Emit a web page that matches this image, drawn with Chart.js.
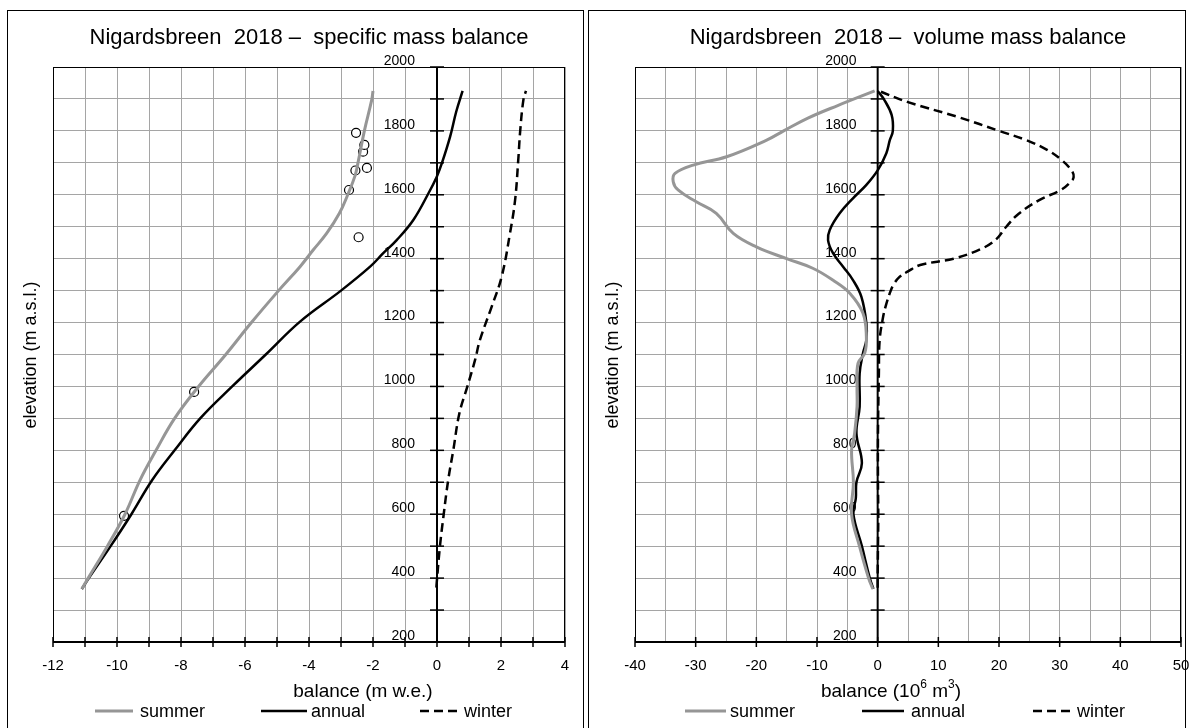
<!DOCTYPE html>
<html>
<head>
<meta charset="utf-8">
<script src="https://cdn.jsdelivr.net/npm/chart.js@4.4.1/dist/chart.umd.min.js"></script>
<style>
  body { margin: 0; background: #fff; width: 1192px; height: 728px; overflow: hidden; position: relative; }
  .panel { position: absolute; top: 10px; height: 740px; border: 1px solid #000; box-sizing: border-box; }
  #p1 { left: 7px; width: 577px; }
  #p2 { left: 588px; width: 598px; }
  .wrap { position: absolute; top: 0; height: 728px; }
  #w1 { left: 0; width: 590px; }
  #w2 { left: 590px; width: 602px; }
</style>
</head>
<body>
<div class="panel" id="p1"></div>
<div class="panel" id="p2"></div>
<div class="wrap" id="w1"><canvas id="c1"></canvas></div>
<div class="wrap" id="w2"><canvas id="c2"></canvas></div>
<script>
const FONT = '"Liberation Sans", Arial, sans-serif';

// ---- specific mass balance (m w.e.) ----
const specSummerElev = [366, 400, 500, 600, 707, 800, 900, 1000, 1100, 1200, 1300, 1375, 1427, 1479, 1542, 1600, 1660, 1700, 1800, 1897, 1925];
const specSummer = [-11.1, -10.9, -10.3, -9.75, -9.28, -8.78, -8.2, -7.45, -6.6, -5.8, -4.95, -4.28, -3.87, -3.45, -3.05, -2.79, -2.56, -2.47, -2.27, -2.04, -2.0];
const specAnnualElev = [366, 400, 500, 600, 707, 800, 900, 1000, 1100, 1203, 1300, 1375, 1417, 1458, 1521, 1604, 1656, 1698, 1782, 1860, 1925];
const specAnnual = [-11.1, -10.88, -10.2, -9.55, -8.9, -8.2, -7.4, -6.4, -5.35, -4.28, -3.0, -2.09, -1.68, -1.26, -0.74, -0.27, -0.01, 0.15, 0.41, 0.6, 0.8];
const specWinterElev = [370, 384, 498, 592, 707, 801, 916, 1000, 1083, 1145, 1250, 1343, 1479, 1583, 1710, 1800, 1897, 1925];
const specWinter = [-0.02, -0.01, 0.09, 0.2, 0.35, 0.51, 0.7, 0.95, 1.19, 1.34, 1.71, 2.02, 2.28, 2.44, 2.54, 2.6, 2.7, 2.78];
// stake measurements (summer)
const stakeElev = [595, 983, 1467, 1615, 1676, 1684, 1735, 1756, 1794];
const stakeSummer = [-9.78, -7.59, -2.45, -2.75, -2.55, -2.19, -2.31, -2.27, -2.53];

// ---- volume mass balance (10^6 m3) ----
const volSummerElev = [366, 400, 500, 600, 700, 800, 853, 937, 999, 1072, 1104, 1156, 1229, 1292, 1333, 1370, 1400, 1437, 1479, 1542, 1578, 1615, 1641, 1667, 1693, 1719, 1771, 1800, 1840, 1880, 1925];
const volSummer = [-0.8, -1.5, -3.0, -4.3, -4.0, -4.3, -3.8, -3.4, -3.4, -3.24, -2.14, -1.86, -2.42, -4.6, -7.4, -10.7, -15, -20, -23.8, -26.6, -29.9, -32.9, -33.7, -33.4, -30.4, -24.9, -18.3, -15.5, -11.5, -6.5, -0.5];
const volAnnualElev = [366, 400, 500, 600, 650, 700, 760, 853, 937, 1041, 1104, 1146, 1198, 1281, 1333, 1375, 1417, 1458, 1490, 1542, 1589, 1631, 1678, 1730, 1771, 1800, 1850, 1900, 1925];
const volAnnual = [-0.7, -1.3, -2.6, -4.0, -3.6, -3.5, -2.6, -3.5, -2.97, -2.97, -2.42, -1.86, -1.86, -2.69, -4.07, -5.7, -7.36, -8.18, -7.9, -6.26, -4.07, -1.86, 0.05, 1.43, 2.0, 2.5, 2.3, 1.0, 0];
const volWinterElev = [370, 400, 500, 600, 700, 853, 1041, 1146, 1218, 1250, 1292, 1318, 1343, 1360, 1380, 1400, 1430, 1460, 1500, 1540, 1584, 1615, 1640, 1655, 1675, 1709, 1740, 1771, 1800, 1842, 1890, 1925];
const volWinter = [0, 0, 0.05, 0.1, 0.05, 0.05, 0.2, 0.33, 0.9, 1.3, 2.0, 2.6, 3.6, 5.0, 7.0, 12.5, 17.0, 19.5, 21.2, 23.2, 26.7, 30.2, 31.8, 32.3, 32.0, 30.3, 28, 24.5, 20, 13.5, 5, 0.2];

const legendLabels = ['summer', 'annual', 'winter'];

const GREY = 'rgb(150,150,150)';
const GRID = 'rgb(165,165,165)';

function pts(xs, ys) { return xs.map((v, i) => ({ x: v, y: ys[i] })); }

function lineSet(label, data, color, width, dash) {
  return { label, data, showLine: true, borderColor: color, borderWidth: width,
           borderDash: dash || [], pointRadius: 0, tension: 0.4, fill: false };
}

function panelPlugin(o) {
  return {
    id: 'panel',
    beforeDatasetsDraw(chart) {
      const { ctx, chartArea: a, scales: { x, y } } = chart;
      ctx.save();
      ctx.strokeStyle = '#000';
      ctx.lineWidth = 1;
      ctx.strokeRect(a.left + 0.5, a.top + 0.5, a.right - a.left - 1, a.bottom - a.top);
      ctx.lineWidth = 2;
      ctx.beginPath(); ctx.moveTo(a.left, a.bottom); ctx.lineTo(a.right, a.bottom); ctx.stroke();
      const x0 = x.getPixelForValue(0);
      ctx.beginPath(); ctx.moveTo(x0, a.top); ctx.lineTo(x0, a.bottom); ctx.stroke();
      ctx.lineWidth = 1.5;
      for (let v = o.xMin; v <= o.xMax; v += o.xTick) {
        const px = x.getPixelForValue(v);
        ctx.beginPath(); ctx.moveTo(px, a.bottom - 5); ctx.lineTo(px, a.bottom + 5); ctx.stroke();
      }
      for (let e = 200; e <= 2000; e += 100) {
        const py = y.getPixelForValue(e);
        ctx.beginPath(); ctx.moveTo(x0 - 7, py); ctx.lineTo(x0 + 7, py); ctx.stroke();
      }
      ctx.restore();
    },
    afterDraw(chart) {
      const { ctx, chartArea: a } = chart;
      ctx.save();
      ctx.fillStyle = '#000';
      ctx.textBaseline = 'middle';
      ctx.textAlign = 'center';
      ctx.font = '22px ' + FONT;
      ctx.fillText(o.title, (a.left + a.right) / 2, 38);
      // x title (with optional superscripts)
      const mainFont = '19px ' + FONT;
      const supFont = '12px ' + FONT;
      let w = 0;
      o.xTitle.forEach(s => { ctx.font = s.sup ? supFont : mainFont; w += ctx.measureText(s.t).width; });
      let cx = a.left + o.xTitleX - w / 2;
      ctx.textAlign = 'left';
      o.xTitle.forEach(s => {
        ctx.font = s.sup ? supFont : mainFont;
        ctx.fillText(s.t, cx, s.sup ? 685 : 692);
        cx += ctx.measureText(s.t).width;
      });
      // y title
      ctx.save();
      ctx.translate(a.left - o.yTitleGap, 355);
      ctx.rotate(-Math.PI / 2);
      ctx.textAlign = 'center';
      ctx.font = '18px ' + FONT;
      ctx.fillText('elevation (m a.s.l.)', 0, 0);
      ctx.restore();
      // legend
      const ds = chart.data.datasets;
      ctx.font = '18px ' + FONT;
      o.legend.forEach((L, i) => {
        const d = ds[i];
        ctx.strokeStyle = d.borderColor;
        ctx.lineWidth = d.borderWidth;
        ctx.setLineDash(d.borderDash);
        ctx.beginPath(); ctx.moveTo(L[0], 711); ctx.lineTo(L[1], 711); ctx.stroke();
        ctx.setLineDash([]);
        ctx.fillText(legendLabels[i], L[2], 712);
      });
      ctx.restore();
    }
  };
}

function makeChart(id, o, datasets) {
  return new Chart(document.getElementById(id), {
    type: 'scatter',
    data: { datasets },
    options: {
      responsive: true,
      maintainAspectRatio: false,
      animation: false,
      layout: { padding: o.pad },
      plugins: { legend: { display: false }, tooltip: { enabled: false } },
      scales: {
        x: {
          type: 'linear', min: o.xMin, max: o.xMax,
          position: { y: 200 },
          border: { display: false },
          grid: { color: GRID, lineWidth: 1, drawTicks: true, tickLength: 15, tickColor: 'rgba(0,0,0,0)' },
          ticks: { stepSize: o.xStep, color: '#000', font: { family: FONT, size: 15 }, padding: 0,
                   maxRotation: 0, autoSkip: false,
                   callback: v => (v % o.xLabelStep === 0 ? String(v) : '') }
        },
        y: {
          type: 'linear', min: 200, max: 2000,
          // labels sit ~22 px left of the zero line
          position: { x: o.yLabelAt },
          border: { display: false },
          grid: { color: GRID, lineWidth: 1, drawTicks: false },
          ticks: { stepSize: 100, color: '#000', font: { family: FONT, size: 14 }, padding: 0,
                   autoSkip: false, labelOffset: -6,
                   callback: v => (v % 200 === 0 ? String(v) : '') }
        }
      }
    },
    plugins: [panelPlugin(o)]
  });
}

makeChart('c1', {
  title: 'Nigardsbreen  2018 \u2013  specific mass balance',
  xTitle: [{ t: 'balance (m w.e.)' }], xTitleX: 310,
  xMin: -12, xMax: 4, xStep: 1, xLabelStep: 2, xTick: 1, yLabelAt: -0.69, yTitleGap: 22,
  pad: { left: 53, right: 25, top: 67, bottom: 86 },
  legend: [[95, 133, 140], [261, 307, 311], [420, 461, 464]]
}, [
  lineSet('summer', pts(specSummer, specSummerElev), GREY, 3),
  lineSet('annual', pts(specAnnual, specAnnualElev), '#000', 2.5),
  lineSet('winter', pts(specWinter, specWinterElev), '#000', 2.5, [9, 5]),
  { label: 'stakes', data: pts(stakeSummer, stakeElev), showLine: false, pointRadius: 4.5,
    pointBackgroundColor: '#fff', pointBorderColor: '#000', pointBorderWidth: 1.2 }
]);

makeChart('c2', {
  title: 'Nigardsbreen  2018 \u2013  volume mass balance',
  xTitle: [{ t: 'balance (10' }, { t: '6', sup: true }, { t: ' m' }, { t: '3', sup: true }, { t: ')' }], xTitleX: 256,
  xMin: -40, xMax: 50, xStep: 5, xLabelStep: 10, xTick: 10, yLabelAt: -3.5, yTitleGap: 22,
  pad: { left: 45, right: 11, top: 67, bottom: 86 },
  legend: [[95, 136, 140], [272, 314, 321], [443, 481, 487]]
}, [
  lineSet('summer', pts(volSummer, volSummerElev), GREY, 3),
  lineSet('annual', pts(volAnnual, volAnnualElev), '#000', 2.5),
  lineSet('winter', pts(volWinter, volWinterElev), '#000', 2.5, [9, 5])
]);
</script>
</body>
</html>
